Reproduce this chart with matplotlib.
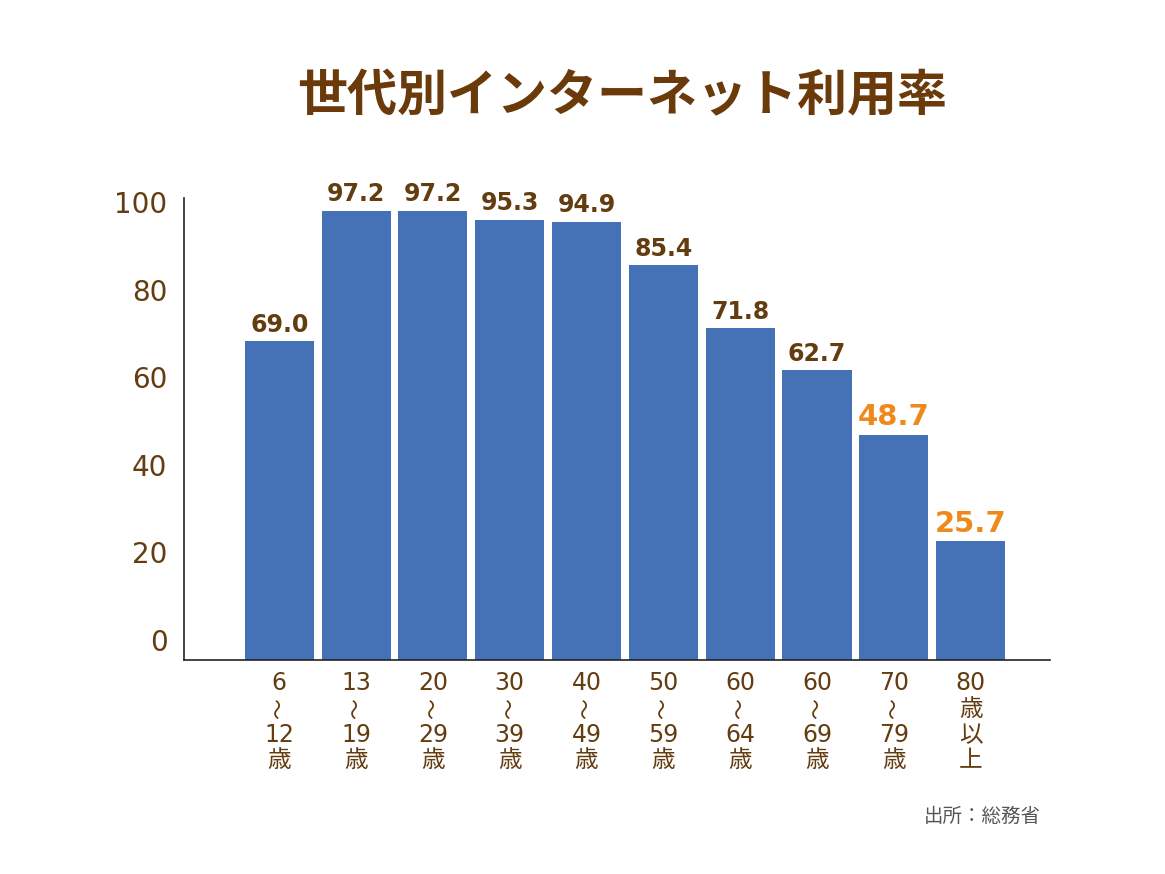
import matplotlib
matplotlib.use("Agg")
import matplotlib.pyplot as plt
import numpy as np

plt.rcParams['font.family'] = ['DejaVu Sans', 'Noto Sans CJK JP']

title = "世代別インターネット利用率"
categories = [["6", "〜", "12", "歳"], ["13", "〜", "19", "歳"], ["20", "〜", "29", "歳"],
              ["30", "〜", "39", "歳"], ["40", "〜", "49", "歳"], ["50", "〜", "59", "歳"],
              ["60", "〜", "64", "歳"], ["60", "〜", "69", "歳"], ["70", "〜", "79", "歳"],
              ["80", "歳", "以", "上"]]
values = [69.0, 97.2, 97.2, 95.3, 94.9, 85.4, 71.8, 62.7, 48.7, 25.7]
highlight = [False] * 8 + [True, True]
ytick_values = [0, 20, 40, 60, 80, 100]
source = "出所：総務省"

BROWN = "#633c0f"
BLUE = "#4571b6"
ORANGE = "#ee8a1c"

fig = plt.figure(figsize=(11.65, 8.74), dpi=100)
ax = fig.add_axes([0.158, 0.2449, 0.743, 0.5286])

x = np.arange(len(values))
bars = ax.bar(x, values, width=0.9, color=BLUE)
ax.set_xlim(-1.24, 10.03)
ax.set_ylim(0, 100)

for xi, v, h in zip(x, values, highlight):
    if h:
        ax.text(xi, v + 0.8, f"{v:.1f}", ha="center", va="bottom",
                fontsize=21, fontweight="bold", color=ORANGE)
    else:
        ax.text(xi, v + 1.0, f"{v:.1f}", ha="center", va="bottom",
                fontsize=17, fontweight="bold", color=BROWN)

# tick labels (drawn slightly offset as in the reference)
ytick_pos = [4.3 + t * 0.948 for t in ytick_values]
ax.set_yticks(ytick_pos)
ax.set_yticklabels([str(t) for t in ytick_values], fontsize=20, color=BROWN)
ax.tick_params(axis="y", length=0, pad=12)

# vertical-style category labels, one text per line
ax.set_xticks(x)
ax.set_xticklabels([""] * len(x))
ax.tick_params(axis="x", length=0)
line_offsets_px = [23, 49, 75, 100]
for xi, lines in zip(x, categories):
    for line, off in zip(lines, line_offsets_px):
        if line == "〜":
            ax.annotate(line, xy=(xi, 0), xycoords=("data", "axes fraction"),
                        xytext=(0, -off * 0.72), textcoords="offset points",
                        ha="center", va="center", rotation=90, fontsize=15,
                        color=BROWN, family=["Noto Sans CJK JP", "DejaVu Sans"],
                        annotation_clip=False)
        else:
            ax.annotate(line, xy=(xi, 0), xycoords=("data", "axes fraction"),
                        xytext=(0, -off * 0.72), textcoords="offset points",
                        ha="center", va="center", fontsize=17, color=BROWN,
                        annotation_clip=False)

for s in ["top", "right"]:
    ax.spines[s].set_visible(False)
ax.spines["left"].set_color("#222222")
ax.spines["bottom"].set_color("#222222")
ax.spines["left"].set_linewidth(1.2)
ax.spines["bottom"].set_linewidth(1.2)

fig.text(0.534, 0.889, title, ha="center", va="center", fontsize=36,
         fontweight="bold", color="#6a3a0b")
fig.text(0.893, 0.066, source, ha="right", va="center", fontsize=14, color="#555555")

fig.savefig("out.png", dpi=100)
